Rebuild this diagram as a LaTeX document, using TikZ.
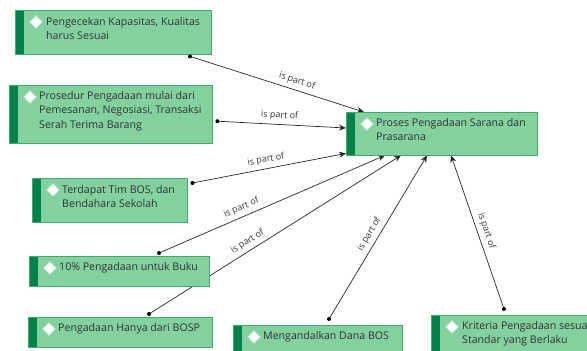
\documentclass[tikz,border=0pt]{standalone}
\usepackage{fontspec}
\setmainfont{Open Sans}
\usepackage{tikz}
\usetikzlibrary{calc,arrows.meta,shapes.geometric}

\definecolor{boxfill}{HTML}{83D19F}
\definecolor{boxline}{HTML}{3CAE6A}
\definecolor{stripgreen}{HTML}{00824A}
\definecolor{textgray}{HTML}{333333}

\pgfdeclarelayer{background}
\pgfsetlayers{background,main}

\tikzset{
	concept/.style={draw=boxline, fill=boxfill, anchor=north west, inner sep=0pt,
		path picture={\fill[stripgreen] (path picture bounding box.north west)
			rectangle ([xshift=9pt]path picture bounding box.south west);}},
	ctext/.style={anchor=north west, inner sep=0pt, align=left, text=textgray,
		font=\fontsize{10.6}{14.5}\selectfont},
	dmark/.style={diamond, draw=boxline!35, fill=white, line width=0.8pt,
		inner sep=0pt, minimum size=13pt},
	link/.style={draw=black!85, line width=0.7pt, -{Stealth[length=7pt,width=6pt]}},
	partof/.style={above=3pt, sloped, inner sep=1pt, text=textgray,
		font=\fontsize{9}{10}\selectfont},
}

\begin{document}
\begin{tikzpicture}[x=1pt, y=-1pt]

	% ---- canvas

	\clip (0,0) rectangle (587,351);

	% ---- boxes

	\node[concept, minimum width=196pt, minimum height=44pt] (cek) at (15,10) {};
	\node[concept, minimum width=203pt, minimum height=58pt] (prosedur) at (9,85) {};
	\node[concept, minimum width=155pt, minimum height=44pt] (tim) at (32,178) {};
	\node[concept, minimum width=180pt, minimum height=30pt] (buku) at (29,256) {};
	\node[concept, minimum width=184pt, minimum height=30pt] (bosp) at (28,317) {};
	\node[concept, minimum width=169pt, minimum height=32pt] (dana) at (233,325) {};
	\node[concept, minimum width=200pt, minimum height=44pt] (kriteria) at (431,315) {};
	\node[concept, minimum width=191pt, minimum height=43pt] (proses) at (346,112) {};

	% ---- diamonds

	\foreach \b in {cek,prosedur,tim,buku,bosp,dana,kriteria,proses} {
		\node[dmark] at ([xshift=21pt,yshift=-12pt]\b.north west) {};
	}

	% ---- texts

	\node[ctext] at ([xshift=31pt,yshift=-7pt]cek.north west)
		{Pengecekan Kapasitas, Kualitas\\harus Sesuai};
	\node[ctext] at ([xshift=30pt,yshift=-6pt]prosedur.north west)
		{Prosedur Pengadaan mulai dari\\Pemesanan, Negosiasi, Transaksi\\Serah Terima Barang};
	\node[ctext] at ([xshift=30pt,yshift=-7pt]tim.north west)
		{Terdapat Tim BOS, dan\\Bendahara Sekolah};
	\node[ctext] at ([xshift=30pt,yshift=-6pt]buku.north west)
		{10\% Pengadaan untuk Buku};
	\node[ctext] at ([xshift=30pt,yshift=-6pt]bosp.north west)
		{Pengadaan Hanya dari BOSP};
	\node[ctext] at ([xshift=30pt,yshift=-6pt]dana.north west)
		{Mengandalkan Dana BOS};
	\node[ctext] at ([xshift=31pt,yshift=-6pt]kriteria.north west)
		{Kriteria Pengadaan sesuai\\Standar yang Berlaku};
	\node[ctext] at ([xshift=30pt,yshift=-6pt]proses.north west)
		{Proses Pengadaan Sarana dan\\Prasarana};

	% ---- end points

	\coordinate (s1) at ([xshift=175pt,yshift=-2pt]cek.south west);
	\coordinate (s2) at ([xshift=5pt,yshift=-7pt]prosedur.east);
	\coordinate (s3) at ([xshift=5pt,yshift=-5pt]tim.north east);
	\coordinate (s4) at ([xshift=130pt,yshift=3pt]buku.north west);
	\coordinate (s5) at ([xshift=121pt,yshift=3pt]bosp.north west);
	\coordinate (s6) at ([xshift=96pt,yshift=6pt]dana.north west);
	\coordinate (s7) at ([xshift=73pt,yshift=6pt]kriteria.north west);

	% ---- connectors

	\begin{pgfonlayer}{background}
		\draw[link] (s1) -- node[partof, pos=0.6] {is part of} ([xshift=18pt]proses.north west);
		\draw[link] (s2) -- node[partof, pos=0.48] {is part of} ([yshift=-16pt]proses.north west);
		\draw[link] (s3) -- node[partof, pos=0.49] {is part of} ([yshift=2pt]proses.south west);
		\draw[link] (s4) -- node[partof, pos=0.38] {is part of} ([xshift=39pt]proses.south west);
		\draw[link] (s5) -- node[partof, pos=0.41] {is part of} ([xshift=55pt]proses.south west);
		\draw[link] (s6) -- node[partof, pos=0.49] {is part of} ([xshift=81pt]proses.south west);
		\draw[link] (s7) -- node[partof, pos=0.49] {is part of} ([xshift=105pt]proses.south west);
	\end{pgfonlayer}

	% ---- dots

	\foreach \i in {1,...,7} { \fill (s\i) circle (2pt); }

\end{tikzpicture}
\end{document}
